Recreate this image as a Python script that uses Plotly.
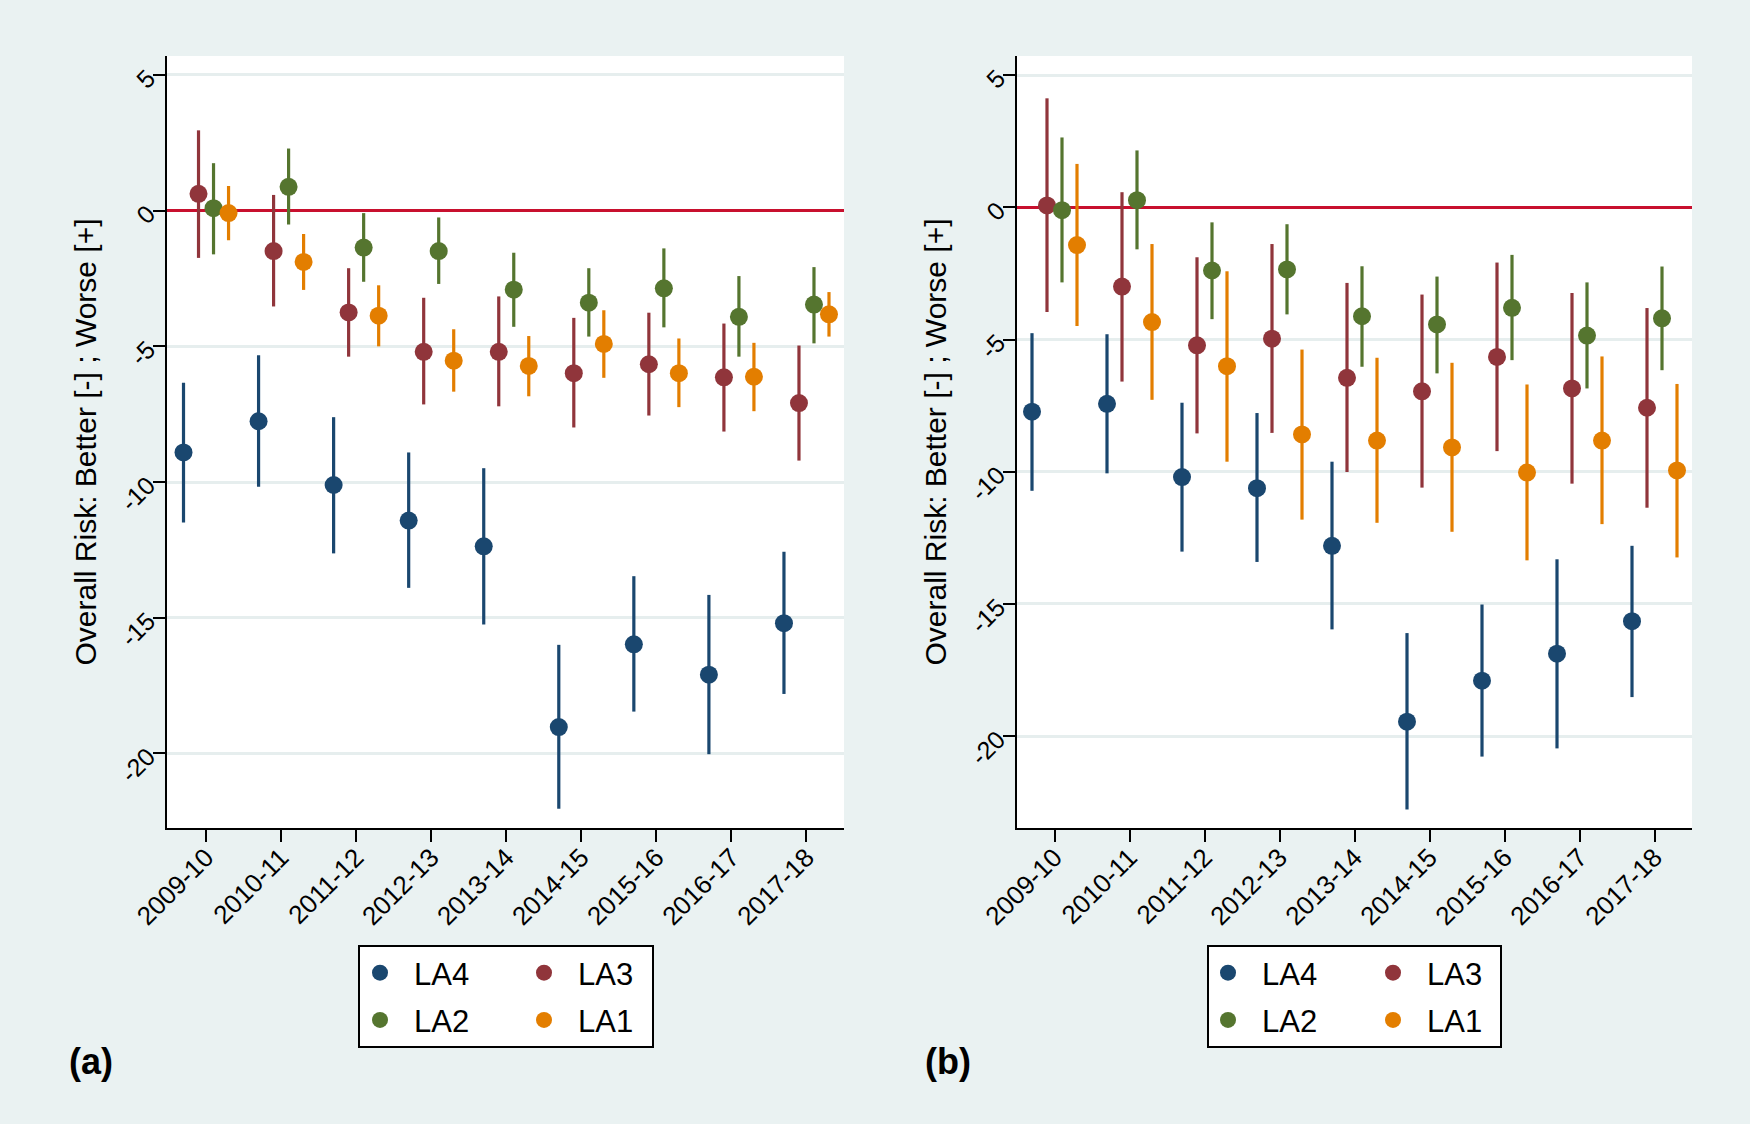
import plotly.graph_objects as go

W, H = 1750, 1124

years = ["2009-10", "2010-11", "2011-12", "2012-13", "2013-14",
         "2014-15", "2015-16", "2016-17", "2017-18"]
series_names = ["LA4", "LA3", "LA2", "LA1"]
y_tick_vals = [5, 0, -5, -10, -15, -20]
y_tick_text = ["5", "0", "-5", "-10", "-15", "-20"]
y_title = "Overall Risk: Better [-] ; Worse [+]"
panel_labels = ["(a)", "(b)"]

# ---------------- Panel (a) ----------------
a_LA4_est = [-8.91, -7.76, -10.11, -11.42, -12.37, -19.03, -15.98, -17.10, -15.20]
a_LA4_lo = [-11.49, -10.17, -12.63, -13.90, -15.25, -22.04, -18.46, -20.03, -17.81]
a_LA4_hi = [-6.34, -5.33, -7.61, -8.91, -9.49, -16.00, -13.47, -14.16, -12.57]

a_LA3_est = [0.62, -1.49, -3.75, -5.20, -5.20, -5.99, -5.66, -6.14, -7.09]
a_LA3_lo = [-1.74, -3.53, -5.38, -7.14, -7.21, -7.99, -7.55, -8.14, -9.21]
a_LA3_hi = [2.96, 0.58, -2.12, -3.21, -3.16, -3.95, -3.76, -4.16, -4.97]

a_LA2_est = [0.09, 0.88, -1.36, -1.49, -2.91, -3.39, -2.86, -3.91, -3.46]
a_LA2_lo = [-1.61, -0.51, -2.62, -2.70, -4.28, -4.64, -4.30, -5.38, -4.89]
a_LA2_hi = [1.75, 2.29, -0.09, -0.25, -1.55, -2.12, -1.39, -2.41, -2.08]

a_LA1_est = [-0.09, -1.89, -3.87, -5.53, -5.72, -4.91, -5.99, -6.12, -3.82]
a_LA1_lo = [-1.09, -2.92, -5.00, -6.67, -6.84, -6.16, -7.24, -7.39, -4.64]
a_LA1_hi = [0.91, -0.86, -2.75, -4.37, -4.62, -3.67, -4.71, -4.87, -3.00]

# ---------------- Panel (b) ----------------
b_LA4_est = [-7.73, -7.43, -10.20, -10.62, -12.80, -19.45, -17.90, -16.88, -15.65]
b_LA4_lo = [-10.72, -10.06, -13.02, -13.41, -15.96, -22.77, -20.77, -20.46, -18.52]
b_LA4_hi = [-4.76, -4.80, -7.39, -7.78, -9.62, -16.10, -15.02, -13.31, -12.80]

b_LA3_est = [0.07, -3.00, -5.22, -4.97, -6.45, -6.96, -5.66, -6.85, -7.58]
b_LA3_lo = [-3.96, -6.59, -8.55, -8.53, -10.01, -10.60, -9.22, -10.45, -11.36]
b_LA3_hi = [4.12, 0.57, -1.89, -1.39, -2.86, -3.30, -2.09, -3.24, -3.81]

b_LA2_est = [-0.11, 0.27, -2.39, -2.35, -4.12, -4.43, -3.80, -4.85, -4.20]
b_LA2_lo = [-2.84, -1.59, -4.23, -4.05, -6.03, -6.28, -5.78, -6.85, -6.16]
b_LA2_hi = [2.64, 2.15, -0.57, -0.64, -2.23, -2.62, -1.80, -2.84, -2.24]

b_LA1_est = [-1.43, -4.34, -6.01, -8.59, -8.82, -9.08, -10.03, -8.82, -9.95]
b_LA1_lo = [-4.49, -7.28, -9.62, -11.81, -11.93, -12.27, -13.35, -11.98, -13.24]
b_LA1_hi = [1.64, -1.39, -2.42, -5.38, -5.69, -5.88, -6.70, -5.64, -6.68]

panel_a = {
    "LA4": (a_LA4_est, a_LA4_lo, a_LA4_hi),
    "LA3": (a_LA3_est, a_LA3_lo, a_LA3_hi),
    "LA2": (a_LA2_est, a_LA2_lo, a_LA2_hi),
    "LA1": (a_LA1_est, a_LA1_lo, a_LA1_hi),
}
panel_b = {
    "LA4": (b_LA4_est, b_LA4_lo, b_LA4_hi),
    "LA3": (b_LA3_est, b_LA3_lo, b_LA3_hi),
    "LA2": (b_LA2_est, b_LA2_lo, b_LA2_hi),
    "LA1": (b_LA1_est, b_LA1_lo, b_LA1_hi),
}

# ---------------- styling ----------------
colors = {"LA4": "#1a476f", "LA3": "#90353b", "LA2": "#55752f", "LA1": "#e37e00"}
offsets = {"LA4": -0.3, "LA3": -0.1, "LA2": 0.1, "LA1": 0.3}
BG = "#eaf2f2"
GRID = "#e6eeee"
FONT = "Liberation Sans, Arial, sans-serif"

def px_x(p):
    return p / W

def px_y(p):
    return 1 - p / H

fig = go.Figure()

panels = [("x", "y", panel_a, ("legend", "legend2")),
          ("x2", "y2", panel_b, ("legend3", "legend4"))]
for xa, ya, data, legs in panels:
    for name in series_names:
        est, lo, hi = data[name]
        xs = [i + offsets[name] for i in range(len(years))]
        leg = legs[0] if name in ("LA4", "LA2") else legs[1]
        fig.add_trace(go.Scatter(
            x=xs, y=est, mode="markers", name=name,
            xaxis=xa, yaxis=ya, legend=leg, legendgroup=xa + name,
            marker=dict(color=colors[name], size=18, line=dict(width=0)),
            error_y=dict(type="data", symmetric=False,
                         array=[h - e for h, e in zip(hi, est)],
                         arrayminus=[e - l for e, l in zip(est, lo)],
                         color=colors[name], thickness=3.2, width=0),
            hoverinfo="x+y",
        ))

def yaxis_cfg(rng):
    return dict(
        range=rng, domain=[px_y(828), px_y(56)],
        tickvals=y_tick_vals, ticktext=y_tick_text, tickangle=-45,
        tickfont=dict(size=25, color="black", family=FONT),
        ticks="outside", ticklen=12, tickwidth=2, tickcolor="black",
        showline=True, linecolor="black", linewidth=2,
        showgrid=True, gridcolor=GRID, gridwidth=2.5,
        zeroline=True, zerolinecolor="#c8102e", zerolinewidth=3,
        title=dict(text=y_title, font=dict(size=30, color="black", family=FONT), standoff=10),
        automargin=False, fixedrange=True,
    )

def xaxis_cfg(rng, dom):
    return dict(
        range=rng, domain=dom,
        tickvals=list(range(len(years))), ticktext=years, tickangle=-45,
        tickfont=dict(size=26, color="black", family=FONT),
        ticks="outside", ticklen=12, tickwidth=2, tickcolor="black",
        ticklabelstandoff=-10,
        showline=True, linecolor="black", linewidth=2,
        showgrid=False, zeroline=False, automargin=False, fixedrange=True,
    )

leg_common = dict(
    xanchor="left", yanchor="top", bgcolor="rgba(0,0,0,0)", borderwidth=0,
    font=dict(size=31, color="black", family=FONT),
    itemwidth=58, tracegroupgap=4, orientation="v", traceorder="grouped",
    itemclick=False, itemdoubleclick=False,
)

fig.update_layout(
    width=W, height=H,
    margin=dict(l=0, r=0, t=0, b=0),
    paper_bgcolor=BG, plot_bgcolor="white",
    font=dict(family=FONT, color="black"),
    xaxis=xaxis_cfg([-0.52, 8.5], [px_x(167), px_x(844)]),
    yaxis=yaxis_cfg([-22.75, 5.7]),
    xaxis2=xaxis_cfg([-0.5, 8.5], [px_x(1017), px_x(1692)]),
    yaxis2=yaxis_cfg([-23.47, 5.72]),
    legend=dict(leg_common, x=px_x(346), y=px_y(946)),
    legend2=dict(leg_common, x=px_x(510), y=px_y(946)),
    legend3=dict(leg_common, x=px_x(1194), y=px_y(946)),
    legend4=dict(leg_common, x=px_x(1359), y=px_y(946)),
    showlegend=True,
)
fig.layout.yaxis2.anchor = "x2"
fig.layout.xaxis2.anchor = "y2"

# legend frames
for x0, x1 in [(359, 653), (1208, 1501)]:
    fig.add_shape(type="rect", xref="paper", yref="paper",
                  x0=px_x(x0), x1=px_x(x1), y0=px_y(1047), y1=px_y(946),
                  fillcolor="white", line=dict(color="black", width=2), layer="above")

for lbl, xl in zip(panel_labels, [67, 923]):
    fig.add_annotation(text="<b>%s</b>" % lbl, xref="paper", yref="paper",
                       x=px_x(xl), y=px_y(1061), xanchor="left", yanchor="middle",
                       showarrow=False, font=dict(size=36, color="black", family=FONT))

fig.write_html("out.html",
               config={"displayModeBar": False},
               post_script="document.body.style.margin='0';document.body.style.padding='0';"
                           "document.documentElement.style.overflow='hidden';")
